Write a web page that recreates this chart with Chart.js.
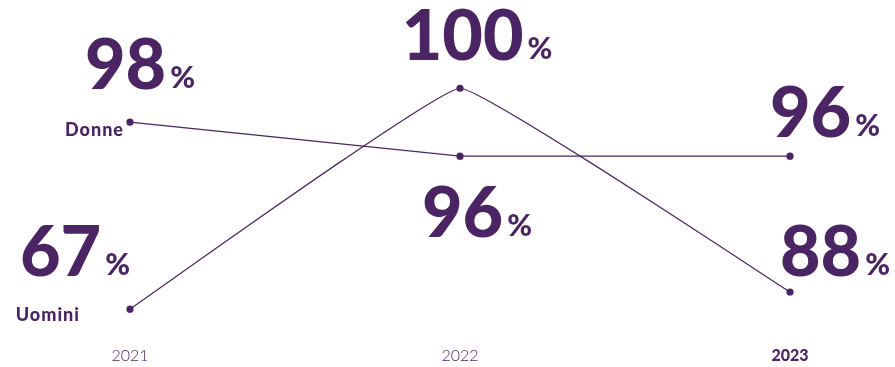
<!DOCTYPE html>
<html>
<head>
<meta charset="utf-8">
<script src="https://cdn.jsdelivr.net/npm/chart.js@4.4.1/dist/chart.umd.min.js"></script>
<style>
  html, body { margin: 0; padding: 0; background: #fff; }
  #wrap { width: 895px; height: 367px; position: relative; }
</style>
</head>
<body>
<div id="wrap"><canvas id="chart"></canvas></div>
<script>
// data
const years = ["2021", "2022", "2023"];
const donne = [98, 96, 96];
const uomini = [67, 100, 88];
const seriesNames = ["Donne", "Uomini"];

const purple = "#4b2463";

// axis break: values under BREAK_AT get squeezed (the 67 sits just under 88)
const BREAK_AT = 88;
const SQUEEZE = 0.048;

class BrokenScale extends Chart.LinearScale {
  getPixelForValue(v) {
    const t = v < BREAK_AT ? BREAK_AT - (BREAK_AT - v) * SQUEEZE : v;
    return super.getPixelForValue(t);
  }
}
BrokenScale.id = 'broken';
BrokenScale.defaults = Chart.LinearScale.defaults;
Chart.register(BrokenScale);

// big labels, placed around each point (dx = centre shift, dy = baseline shift)
const bigLabelPos = [
  [{dx: 10, dy: -33}, {dx: 17, dy: 81}, {dx: 35, dy: -19}],
  [{dx: -55, dy: -33}, {dx: 17, dy: -28}, {dx: 45, dy: -16}]
];
const nameLabelPos = [{dx: -6, dy: 14}, {dx: -50, dy: 12}];

const bigLabels = {
  id: 'bigLabels',
  afterDatasetsDraw(chart) {
    const ctx = chart.ctx;
    ctx.save();
    ctx.fillStyle = purple;
    ctx.textBaseline = 'alphabetic';
    chart.data.datasets.forEach((ds, i) => {
      const pts = chart.getDatasetMeta(i).data;
      pts.forEach((p, j) => {
        const num = String(ds.data[j]);
        ctx.font = '900 70px Lato';
        const wn = ctx.measureText(num).width;
        ctx.font = '900 30px Lato';
        const wp = ctx.measureText('%').width;
        const gap = 4;
        const total = wn + gap + wp;
        const pos = bigLabelPos[i][j];
        const left = p.x + pos.dx - total / 2;
        const base = p.y + pos.dy;
        ctx.textAlign = 'left';
        ctx.font = '900 70px Lato';
        ctx.fillText(num, left, base);
        ctx.font = '900 30px Lato';
        ctx.fillText('%', left + wn + gap, base - 1);
      });
      // series name next to the first point
      const p0 = pts[0];
      ctx.font = '900 18px Lato';
      ctx.letterSpacing = '1px';
      ctx.textAlign = 'right';
      ctx.fillText(seriesNames[i], p0.x + nameLabelPos[i].dx, p0.y + nameLabelPos[i].dy);
      ctx.letterSpacing = '0px';
    });
    ctx.restore();
  }
};

new Chart(document.getElementById('chart'), {
  type: 'line',
  data: {
    labels: years,
    datasets: [
      {
        label: seriesNames[0],
        data: donne,
        borderColor: purple,
        backgroundColor: purple,
        borderWidth: 1.2,
        pointRadius: 3,
        pointHoverRadius: 3,
        tension: 0,
        clip: false
      },
      {
        label: seriesNames[1],
        data: uomini,
        borderColor: purple,
        backgroundColor: purple,
        borderWidth: 1.2,
        pointRadius: 3,
        pointHoverRadius: 3,
        tension: 0.07,
        clip: false
      }
    ]
  },
  options: {
    responsive: true,
    maintainAspectRatio: false,
    animation: false,
    layout: { padding: { left: 130, right: 105, top: 0, bottom: 0 } },
    plugins: {
      legend: { display: false },
      tooltip: { enabled: false }
    },
    scales: {
      x: {
        grid: { display: false, drawTicks: false },
        border: { display: false },
        ticks: {
          padding: 2,
          color: purple,
          font: (c) => ({ family: 'Lato', size: 16, weight: c.index === 2 ? '900' : '300' })
        }
      },
      y: {
        type: 'broken',
        display: false,
        min: 84.95,
        max: 104.95
      }
    }
  },
  plugins: [bigLabels]
});
</script>
</body>
</html>
